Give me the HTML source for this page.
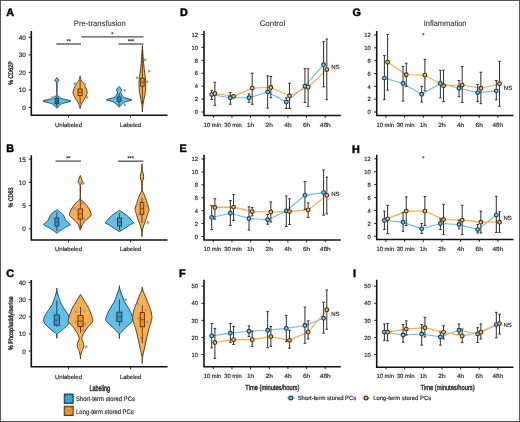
<!DOCTYPE html><html><head><meta charset="utf-8"><style>svg text{font-family:"Liberation Sans",sans-serif;text-rendering:geometricPrecision;stroke:#2a2a2a;stroke-width:0.18px}html,body{margin:0;padding:0;background:#fff;width:520px;height:422px;overflow:hidden;position:relative}</style></head><body><svg width="520" height="422" viewBox="0 0 520 422" style="position:absolute;left:0;top:0;will-change:transform">
<rect x="0" y="0" width="520" height="422" fill="#fff"/>
<text x="6.20" y="15.60" font-size="10.8" text-anchor="start" font-weight="bold" fill="#000" style="stroke:#000;stroke-width:0.45px">A</text>
<text x="6.20" y="152.00" font-size="10.8" text-anchor="start" font-weight="bold" fill="#000" style="stroke:#000;stroke-width:0.45px">B</text>
<text x="6.20" y="276.70" font-size="10.8" text-anchor="start" font-weight="bold" fill="#000" style="stroke:#000;stroke-width:0.45px">C</text>
<text x="179.90" y="16.00" font-size="10.8" text-anchor="start" font-weight="bold" fill="#000" style="stroke:#000;stroke-width:0.45px">D</text>
<text x="179.40" y="152.30" font-size="10.8" text-anchor="start" font-weight="bold" fill="#000" style="stroke:#000;stroke-width:0.45px">E</text>
<text x="179.00" y="276.90" font-size="10.8" text-anchor="start" font-weight="bold" fill="#000" style="stroke:#000;stroke-width:0.45px">F</text>
<text x="352.60" y="15.90" font-size="10.8" text-anchor="start" font-weight="bold" fill="#000" style="stroke:#000;stroke-width:0.45px">G</text>
<text x="352.10" y="152.50" font-size="10.8" text-anchor="start" font-weight="bold" fill="#000" style="stroke:#000;stroke-width:0.45px">H</text>
<text x="352.90" y="277.00" font-size="10.8" text-anchor="start" font-weight="bold" fill="#000" style="stroke:#000;stroke-width:0.45px">I</text>
<path d="M204.00 31.00 V115.50 H340.80" fill="none" stroke="#111" stroke-width="1.6"/>
<line x1="201.40" y1="112.00" x2="204.00" y2="112.00" stroke="#111" stroke-width="0.9"/>
<text x="198.10" y="114.20" font-size="6.0" text-anchor="end" font-weight="normal" fill="#2a2a2a" textLength="3.25" lengthAdjust="spacingAndGlyphs">0</text>
<line x1="201.40" y1="99.08" x2="204.00" y2="99.08" stroke="#111" stroke-width="0.9"/>
<text x="198.10" y="101.28" font-size="6.0" text-anchor="end" font-weight="normal" fill="#2a2a2a" textLength="3.25" lengthAdjust="spacingAndGlyphs">2</text>
<line x1="201.40" y1="86.17" x2="204.00" y2="86.17" stroke="#111" stroke-width="0.9"/>
<text x="198.10" y="88.37" font-size="6.0" text-anchor="end" font-weight="normal" fill="#2a2a2a" textLength="3.25" lengthAdjust="spacingAndGlyphs">4</text>
<line x1="201.40" y1="73.25" x2="204.00" y2="73.25" stroke="#111" stroke-width="0.9"/>
<text x="198.10" y="75.45" font-size="6.0" text-anchor="end" font-weight="normal" fill="#2a2a2a" textLength="3.25" lengthAdjust="spacingAndGlyphs">6</text>
<line x1="201.40" y1="60.33" x2="204.00" y2="60.33" stroke="#111" stroke-width="0.9"/>
<text x="198.10" y="62.53" font-size="6.0" text-anchor="end" font-weight="normal" fill="#2a2a2a" textLength="3.25" lengthAdjust="spacingAndGlyphs">8</text>
<line x1="201.40" y1="47.42" x2="204.00" y2="47.42" stroke="#111" stroke-width="0.9"/>
<text x="198.10" y="49.62" font-size="6.0" text-anchor="end" font-weight="normal" fill="#2a2a2a" textLength="6.50" lengthAdjust="spacingAndGlyphs">10</text>
<line x1="201.40" y1="34.50" x2="204.00" y2="34.50" stroke="#111" stroke-width="0.9"/>
<text x="198.10" y="36.70" font-size="6.0" text-anchor="end" font-weight="normal" fill="#2a2a2a" textLength="6.50" lengthAdjust="spacingAndGlyphs">12</text>
<line x1="213.30" y1="115.50" x2="213.30" y2="117.90" stroke="#111" stroke-width="0.9"/>
<text x="212.50" y="126.70" font-size="6.0" text-anchor="middle" font-weight="normal" fill="#2a2a2a" textLength="17.6" lengthAdjust="spacingAndGlyphs">10 min</text>
<line x1="231.95" y1="115.50" x2="231.95" y2="117.90" stroke="#111" stroke-width="0.9"/>
<text x="232.95" y="126.70" font-size="6.0" text-anchor="middle" font-weight="normal" fill="#2a2a2a" textLength="17.6" lengthAdjust="spacingAndGlyphs">30 min</text>
<line x1="250.60" y1="115.50" x2="250.60" y2="117.90" stroke="#111" stroke-width="0.9"/>
<text x="250.60" y="126.70" font-size="6.0" text-anchor="middle" font-weight="normal" fill="#2a2a2a" textLength="7.3" lengthAdjust="spacingAndGlyphs">1h</text>
<line x1="269.25" y1="115.50" x2="269.25" y2="117.90" stroke="#111" stroke-width="0.9"/>
<text x="269.25" y="126.70" font-size="6.0" text-anchor="middle" font-weight="normal" fill="#2a2a2a" textLength="7.3" lengthAdjust="spacingAndGlyphs">2h</text>
<line x1="287.90" y1="115.50" x2="287.90" y2="117.90" stroke="#111" stroke-width="0.9"/>
<text x="287.90" y="126.70" font-size="6.0" text-anchor="middle" font-weight="normal" fill="#2a2a2a" textLength="7.3" lengthAdjust="spacingAndGlyphs">4h</text>
<line x1="306.55" y1="115.50" x2="306.55" y2="117.90" stroke="#111" stroke-width="0.9"/>
<text x="306.55" y="126.70" font-size="6.0" text-anchor="middle" font-weight="normal" fill="#2a2a2a" textLength="7.3" lengthAdjust="spacingAndGlyphs">6h</text>
<line x1="325.20" y1="115.50" x2="325.20" y2="117.90" stroke="#111" stroke-width="0.9"/>
<text x="325.20" y="126.70" font-size="6.0" text-anchor="middle" font-weight="normal" fill="#2a2a2a" textLength="10.8" lengthAdjust="spacingAndGlyphs">48h</text>
<polyline points="211.70,94.56 230.35,97.79 249.00,97.79 267.65,91.98 286.30,102.12 304.95,86.17 323.60,64.66" fill="none" stroke="#6cc0e4" stroke-width="1.15"/>
<polyline points="214.90,93.46 233.55,96.31 252.20,88.10 270.85,87.46 289.50,95.66 308.15,87.14 326.80,69.57" fill="none" stroke="#f2ad52" stroke-width="1.15"/>
<path d="M211.70 90.30 V99.47 M210.40 90.30 H213.00 M210.40 99.47 H213.00" stroke="#2e2e2e" stroke-width="1.0" fill="none"/>
<path d="M230.35 92.62 V104.25 M229.05 92.62 H231.65 M229.05 104.25 H231.65" stroke="#2e2e2e" stroke-width="1.0" fill="none"/>
<path d="M249.00 93.92 V102.31 M247.70 93.92 H250.30 M247.70 102.31 H250.30" stroke="#2e2e2e" stroke-width="1.0" fill="none"/>
<path d="M267.65 75.83 V108.12 M266.35 75.83 H268.95 M266.35 108.12 H268.95" stroke="#2e2e2e" stroke-width="1.0" fill="none"/>
<path d="M286.30 97.79 V108.45 M285.00 97.79 H287.60 M285.00 108.45 H287.60" stroke="#2e2e2e" stroke-width="1.0" fill="none"/>
<path d="M304.95 68.73 V102.51 M303.65 68.73 H306.25 M303.65 102.51 H306.25" stroke="#2e2e2e" stroke-width="1.0" fill="none"/>
<path d="M323.60 41.60 V86.81 M322.30 41.60 H324.90 M322.30 86.81 H324.90" stroke="#2e2e2e" stroke-width="1.0" fill="none"/>
<path d="M214.90 82.29 V105.28 M213.60 82.29 H216.20 M213.60 105.28 H216.20" stroke="#2e2e2e" stroke-width="1.0" fill="none"/>
<path d="M233.55 95.21 V97.47 M232.25 95.21 H234.85 M232.25 97.47 H234.85" stroke="#2e2e2e" stroke-width="1.0" fill="none"/>
<path d="M252.20 73.25 V104.25 M250.90 73.25 H253.50 M250.90 104.25 H253.50" stroke="#2e2e2e" stroke-width="1.0" fill="none"/>
<path d="M270.85 76.48 V97.79 M269.55 76.48 H272.15 M269.55 97.79 H272.15" stroke="#2e2e2e" stroke-width="1.0" fill="none"/>
<path d="M289.50 83.26 V108.45 M288.20 83.26 H290.80 M288.20 108.45 H290.80" stroke="#2e2e2e" stroke-width="1.0" fill="none"/>
<path d="M308.15 68.73 V106.32 M306.85 68.73 H309.45 M306.85 106.32 H309.45" stroke="#2e2e2e" stroke-width="1.0" fill="none"/>
<path d="M326.80 39.02 V99.73 M325.50 39.02 H328.10 M325.50 99.73 H328.10" stroke="#2e2e2e" stroke-width="1.0" fill="none"/>
<circle cx="211.70" cy="94.56" r="1.85" fill="#7ccdf2" stroke="#173f55" stroke-width="1.15"/>
<circle cx="230.35" cy="97.79" r="1.85" fill="#7ccdf2" stroke="#173f55" stroke-width="1.15"/>
<circle cx="249.00" cy="97.79" r="1.85" fill="#7ccdf2" stroke="#173f55" stroke-width="1.15"/>
<circle cx="267.65" cy="91.98" r="1.85" fill="#7ccdf2" stroke="#173f55" stroke-width="1.15"/>
<circle cx="286.30" cy="102.12" r="1.85" fill="#7ccdf2" stroke="#173f55" stroke-width="1.15"/>
<circle cx="304.95" cy="86.17" r="1.85" fill="#7ccdf2" stroke="#173f55" stroke-width="1.15"/>
<circle cx="323.60" cy="64.66" r="1.85" fill="#7ccdf2" stroke="#173f55" stroke-width="1.15"/>
<circle cx="214.90" cy="93.46" r="1.85" fill="#f9c274" stroke="#4a2d0c" stroke-width="1.15"/>
<circle cx="233.55" cy="96.31" r="1.85" fill="#f9c274" stroke="#4a2d0c" stroke-width="1.15"/>
<circle cx="252.20" cy="88.10" r="1.85" fill="#f9c274" stroke="#4a2d0c" stroke-width="1.15"/>
<circle cx="270.85" cy="87.46" r="1.85" fill="#f9c274" stroke="#4a2d0c" stroke-width="1.15"/>
<circle cx="289.50" cy="95.66" r="1.85" fill="#f9c274" stroke="#4a2d0c" stroke-width="1.15"/>
<circle cx="308.15" cy="87.14" r="1.85" fill="#f9c274" stroke="#4a2d0c" stroke-width="1.15"/>
<circle cx="326.80" cy="69.57" r="1.85" fill="#f9c274" stroke="#4a2d0c" stroke-width="1.15"/>
<text x="272.40" y="25.60" font-size="8.0" text-anchor="middle" font-weight="normal" fill="#2a2a2a" textLength="25.5" lengthAdjust="spacingAndGlyphs" style="stroke-width:0.08px">Control</text>
<text x="331.20" y="69.30" font-size="6.0" text-anchor="start" font-weight="normal" fill="#2a2a2a" >NS</text>
<path d="M204.00 154.70 V240.00 H340.80" fill="none" stroke="#111" stroke-width="1.6"/>
<line x1="201.40" y1="236.50" x2="204.00" y2="236.50" stroke="#111" stroke-width="0.9"/>
<text x="198.10" y="238.70" font-size="6.0" text-anchor="end" font-weight="normal" fill="#2a2a2a" textLength="3.25" lengthAdjust="spacingAndGlyphs">0</text>
<line x1="201.40" y1="223.58" x2="204.00" y2="223.58" stroke="#111" stroke-width="0.9"/>
<text x="198.10" y="225.78" font-size="6.0" text-anchor="end" font-weight="normal" fill="#2a2a2a" textLength="3.25" lengthAdjust="spacingAndGlyphs">2</text>
<line x1="201.40" y1="210.67" x2="204.00" y2="210.67" stroke="#111" stroke-width="0.9"/>
<text x="198.10" y="212.87" font-size="6.0" text-anchor="end" font-weight="normal" fill="#2a2a2a" textLength="3.25" lengthAdjust="spacingAndGlyphs">4</text>
<line x1="201.40" y1="197.75" x2="204.00" y2="197.75" stroke="#111" stroke-width="0.9"/>
<text x="198.10" y="199.95" font-size="6.0" text-anchor="end" font-weight="normal" fill="#2a2a2a" textLength="3.25" lengthAdjust="spacingAndGlyphs">6</text>
<line x1="201.40" y1="184.83" x2="204.00" y2="184.83" stroke="#111" stroke-width="0.9"/>
<text x="198.10" y="187.03" font-size="6.0" text-anchor="end" font-weight="normal" fill="#2a2a2a" textLength="3.25" lengthAdjust="spacingAndGlyphs">8</text>
<line x1="201.40" y1="171.92" x2="204.00" y2="171.92" stroke="#111" stroke-width="0.9"/>
<text x="198.10" y="174.12" font-size="6.0" text-anchor="end" font-weight="normal" fill="#2a2a2a" textLength="6.50" lengthAdjust="spacingAndGlyphs">10</text>
<line x1="201.40" y1="159.00" x2="204.00" y2="159.00" stroke="#111" stroke-width="0.9"/>
<text x="198.10" y="161.20" font-size="6.0" text-anchor="end" font-weight="normal" fill="#2a2a2a" textLength="6.50" lengthAdjust="spacingAndGlyphs">12</text>
<line x1="213.30" y1="240.00" x2="213.30" y2="242.40" stroke="#111" stroke-width="0.9"/>
<text x="212.50" y="251.20" font-size="6.0" text-anchor="middle" font-weight="normal" fill="#2a2a2a" textLength="17.6" lengthAdjust="spacingAndGlyphs">10 min</text>
<line x1="231.95" y1="240.00" x2="231.95" y2="242.40" stroke="#111" stroke-width="0.9"/>
<text x="232.95" y="251.20" font-size="6.0" text-anchor="middle" font-weight="normal" fill="#2a2a2a" textLength="17.6" lengthAdjust="spacingAndGlyphs">30 min</text>
<line x1="250.60" y1="240.00" x2="250.60" y2="242.40" stroke="#111" stroke-width="0.9"/>
<text x="250.60" y="251.20" font-size="6.0" text-anchor="middle" font-weight="normal" fill="#2a2a2a" textLength="7.3" lengthAdjust="spacingAndGlyphs">1h</text>
<line x1="269.25" y1="240.00" x2="269.25" y2="242.40" stroke="#111" stroke-width="0.9"/>
<text x="269.25" y="251.20" font-size="6.0" text-anchor="middle" font-weight="normal" fill="#2a2a2a" textLength="7.3" lengthAdjust="spacingAndGlyphs">2h</text>
<line x1="287.90" y1="240.00" x2="287.90" y2="242.40" stroke="#111" stroke-width="0.9"/>
<text x="287.90" y="251.20" font-size="6.0" text-anchor="middle" font-weight="normal" fill="#2a2a2a" textLength="7.3" lengthAdjust="spacingAndGlyphs">4h</text>
<line x1="306.55" y1="240.00" x2="306.55" y2="242.40" stroke="#111" stroke-width="0.9"/>
<text x="306.55" y="251.20" font-size="6.0" text-anchor="middle" font-weight="normal" fill="#2a2a2a" textLength="7.3" lengthAdjust="spacingAndGlyphs">6h</text>
<line x1="325.20" y1="240.00" x2="325.20" y2="242.40" stroke="#111" stroke-width="0.9"/>
<text x="325.20" y="251.20" font-size="6.0" text-anchor="middle" font-weight="normal" fill="#2a2a2a" textLength="10.8" lengthAdjust="spacingAndGlyphs">48h</text>
<polyline points="211.70,217.45 230.35,213.25 249.00,218.42 267.65,219.71 286.30,210.93 304.95,195.36 323.60,192.58" fill="none" stroke="#6cc0e4" stroke-width="1.15"/>
<polyline points="214.90,207.44 233.55,207.11 252.20,211.57 270.85,211.96 289.50,211.57 308.15,209.89 326.80,195.36" fill="none" stroke="#f2ad52" stroke-width="1.15"/>
<path d="M211.70 205.69 V229.59 M210.40 205.69 H213.00 M210.40 229.59 H213.00" stroke="#2e2e2e" stroke-width="1.0" fill="none"/>
<path d="M230.35 200.53 V225.52 M229.05 200.53 H231.65 M229.05 225.52 H231.65" stroke="#2e2e2e" stroke-width="1.0" fill="none"/>
<path d="M249.00 206.79 V230.04 M247.70 206.79 H250.30 M247.70 230.04 H250.30" stroke="#2e2e2e" stroke-width="1.0" fill="none"/>
<path d="M267.65 214.54 V224.23 M266.35 214.54 H268.95 M266.35 224.23 H268.95" stroke="#2e2e2e" stroke-width="1.0" fill="none"/>
<path d="M286.30 196.01 V226.49 M285.00 196.01 H287.60 M285.00 226.49 H287.60" stroke="#2e2e2e" stroke-width="1.0" fill="none"/>
<path d="M304.95 181.60 V209.38 M303.65 181.60 H306.25 M303.65 209.38 H306.25" stroke="#2e2e2e" stroke-width="1.0" fill="none"/>
<path d="M323.60 169.98 V215.19 M322.30 169.98 H324.90 M322.30 215.19 H324.90" stroke="#2e2e2e" stroke-width="1.0" fill="none"/>
<path d="M214.90 198.78 V219.19 M213.60 198.78 H216.20 M213.60 219.19 H216.20" stroke="#2e2e2e" stroke-width="1.0" fill="none"/>
<path d="M233.55 194.52 V220.35 M232.25 194.52 H234.85 M232.25 220.35 H234.85" stroke="#2e2e2e" stroke-width="1.0" fill="none"/>
<path d="M252.20 207.44 V215.83 M250.90 207.44 H253.50 M250.90 215.83 H253.50" stroke="#2e2e2e" stroke-width="1.0" fill="none"/>
<path d="M270.85 201.88 V221.97 M269.55 201.88 H272.15 M269.55 221.97 H272.15" stroke="#2e2e2e" stroke-width="1.0" fill="none"/>
<path d="M289.50 198.78 V224.42 M288.20 198.78 H290.80 M288.20 224.42 H290.80" stroke="#2e2e2e" stroke-width="1.0" fill="none"/>
<path d="M308.15 202.92 V217.45 M306.85 202.92 H309.45 M306.85 217.45 H309.45" stroke="#2e2e2e" stroke-width="1.0" fill="none"/>
<path d="M326.80 177.08 V213.90 M325.50 177.08 H328.10 M325.50 213.90 H328.10" stroke="#2e2e2e" stroke-width="1.0" fill="none"/>
<circle cx="211.70" cy="217.45" r="1.85" fill="#7ccdf2" stroke="#173f55" stroke-width="1.15"/>
<circle cx="230.35" cy="213.25" r="1.85" fill="#7ccdf2" stroke="#173f55" stroke-width="1.15"/>
<circle cx="249.00" cy="218.42" r="1.85" fill="#7ccdf2" stroke="#173f55" stroke-width="1.15"/>
<circle cx="267.65" cy="219.71" r="1.85" fill="#7ccdf2" stroke="#173f55" stroke-width="1.15"/>
<circle cx="286.30" cy="210.93" r="1.85" fill="#7ccdf2" stroke="#173f55" stroke-width="1.15"/>
<circle cx="304.95" cy="195.36" r="1.85" fill="#7ccdf2" stroke="#173f55" stroke-width="1.15"/>
<circle cx="323.60" cy="192.58" r="1.85" fill="#7ccdf2" stroke="#173f55" stroke-width="1.15"/>
<circle cx="214.90" cy="207.44" r="1.85" fill="#f9c274" stroke="#4a2d0c" stroke-width="1.15"/>
<circle cx="233.55" cy="207.11" r="1.85" fill="#f9c274" stroke="#4a2d0c" stroke-width="1.15"/>
<circle cx="252.20" cy="211.57" r="1.85" fill="#f9c274" stroke="#4a2d0c" stroke-width="1.15"/>
<circle cx="270.85" cy="211.96" r="1.85" fill="#f9c274" stroke="#4a2d0c" stroke-width="1.15"/>
<circle cx="289.50" cy="211.57" r="1.85" fill="#f9c274" stroke="#4a2d0c" stroke-width="1.15"/>
<circle cx="308.15" cy="209.89" r="1.85" fill="#f9c274" stroke="#4a2d0c" stroke-width="1.15"/>
<circle cx="326.80" cy="195.36" r="1.85" fill="#f9c274" stroke="#4a2d0c" stroke-width="1.15"/>
<text x="331.20" y="195.90" font-size="6.0" text-anchor="start" font-weight="normal" fill="#2a2a2a" >NS</text>
<path d="M204.00 279.70 V366.80 H340.80" fill="none" stroke="#111" stroke-width="1.6"/>
<line x1="201.40" y1="354.50" x2="204.00" y2="354.50" stroke="#111" stroke-width="0.9"/>
<text x="198.10" y="356.70" font-size="6.0" text-anchor="end" font-weight="normal" fill="#2a2a2a" textLength="6.50" lengthAdjust="spacingAndGlyphs">10</text>
<line x1="201.40" y1="337.43" x2="204.00" y2="337.43" stroke="#111" stroke-width="0.9"/>
<text x="198.10" y="339.62" font-size="6.0" text-anchor="end" font-weight="normal" fill="#2a2a2a" textLength="6.50" lengthAdjust="spacingAndGlyphs">20</text>
<line x1="201.40" y1="320.35" x2="204.00" y2="320.35" stroke="#111" stroke-width="0.9"/>
<text x="198.10" y="322.55" font-size="6.0" text-anchor="end" font-weight="normal" fill="#2a2a2a" textLength="6.50" lengthAdjust="spacingAndGlyphs">30</text>
<line x1="201.40" y1="303.27" x2="204.00" y2="303.27" stroke="#111" stroke-width="0.9"/>
<text x="198.10" y="305.47" font-size="6.0" text-anchor="end" font-weight="normal" fill="#2a2a2a" textLength="6.50" lengthAdjust="spacingAndGlyphs">40</text>
<line x1="201.40" y1="286.20" x2="204.00" y2="286.20" stroke="#111" stroke-width="0.9"/>
<text x="198.10" y="288.40" font-size="6.0" text-anchor="end" font-weight="normal" fill="#2a2a2a" textLength="6.50" lengthAdjust="spacingAndGlyphs">50</text>
<line x1="213.30" y1="366.80" x2="213.30" y2="369.20" stroke="#111" stroke-width="0.9"/>
<text x="212.50" y="378.00" font-size="6.0" text-anchor="middle" font-weight="normal" fill="#2a2a2a" textLength="17.6" lengthAdjust="spacingAndGlyphs">10 min</text>
<line x1="231.95" y1="366.80" x2="231.95" y2="369.20" stroke="#111" stroke-width="0.9"/>
<text x="232.95" y="378.00" font-size="6.0" text-anchor="middle" font-weight="normal" fill="#2a2a2a" textLength="17.6" lengthAdjust="spacingAndGlyphs">30 min</text>
<line x1="250.60" y1="366.80" x2="250.60" y2="369.20" stroke="#111" stroke-width="0.9"/>
<text x="250.60" y="378.00" font-size="6.0" text-anchor="middle" font-weight="normal" fill="#2a2a2a" textLength="7.3" lengthAdjust="spacingAndGlyphs">1h</text>
<line x1="269.25" y1="366.80" x2="269.25" y2="369.20" stroke="#111" stroke-width="0.9"/>
<text x="269.25" y="378.00" font-size="6.0" text-anchor="middle" font-weight="normal" fill="#2a2a2a" textLength="7.3" lengthAdjust="spacingAndGlyphs">2h</text>
<line x1="287.90" y1="366.80" x2="287.90" y2="369.20" stroke="#111" stroke-width="0.9"/>
<text x="287.90" y="378.00" font-size="6.0" text-anchor="middle" font-weight="normal" fill="#2a2a2a" textLength="7.3" lengthAdjust="spacingAndGlyphs">4h</text>
<line x1="306.55" y1="366.80" x2="306.55" y2="369.20" stroke="#111" stroke-width="0.9"/>
<text x="306.55" y="378.00" font-size="6.0" text-anchor="middle" font-weight="normal" fill="#2a2a2a" textLength="7.3" lengthAdjust="spacingAndGlyphs">6h</text>
<line x1="325.20" y1="366.80" x2="325.20" y2="369.20" stroke="#111" stroke-width="0.9"/>
<text x="325.20" y="378.00" font-size="6.0" text-anchor="middle" font-weight="normal" fill="#2a2a2a" textLength="10.8" lengthAdjust="spacingAndGlyphs">48h</text>
<polyline points="211.70,335.89 230.35,333.16 249.00,331.28 267.65,330.25 286.30,328.38 304.95,325.47 323.60,318.30" fill="none" stroke="#6cc0e4" stroke-width="1.15"/>
<polyline points="214.90,342.55 233.55,339.64 252.20,339.64 270.85,336.57 289.50,340.33 308.15,332.13 326.80,309.76" fill="none" stroke="#f2ad52" stroke-width="1.15"/>
<path d="M211.70 323.59 V347.84 M210.40 323.59 H213.00 M210.40 347.84 H213.00" stroke="#2e2e2e" stroke-width="1.0" fill="none"/>
<path d="M230.35 323.59 V342.55 M229.05 323.59 H231.65 M229.05 342.55 H231.65" stroke="#2e2e2e" stroke-width="1.0" fill="none"/>
<path d="M249.00 325.81 V336.57 M247.70 325.81 H250.30 M247.70 336.57 H250.30" stroke="#2e2e2e" stroke-width="1.0" fill="none"/>
<path d="M267.65 311.64 V347.84 M266.35 311.64 H268.95 M266.35 347.84 H268.95" stroke="#2e2e2e" stroke-width="1.0" fill="none"/>
<path d="M286.30 315.40 V341.52 M285.00 315.40 H287.60 M285.00 341.52 H287.60" stroke="#2e2e2e" stroke-width="1.0" fill="none"/>
<path d="M304.95 307.20 V343.23 M303.65 307.20 H306.25 M303.65 343.23 H306.25" stroke="#2e2e2e" stroke-width="1.0" fill="none"/>
<path d="M323.60 302.25 V333.16 M322.30 302.25 H324.90 M322.30 333.16 H324.90" stroke="#2e2e2e" stroke-width="1.0" fill="none"/>
<path d="M214.90 328.38 V358.26 M213.60 328.38 H216.20 M213.60 358.26 H216.20" stroke="#2e2e2e" stroke-width="1.0" fill="none"/>
<path d="M233.55 326.50 V344.43 M232.25 326.50 H234.85 M232.25 344.43 H234.85" stroke="#2e2e2e" stroke-width="1.0" fill="none"/>
<path d="M252.20 331.28 V346.30 M250.90 331.28 H253.50 M250.90 346.30 H253.50" stroke="#2e2e2e" stroke-width="1.0" fill="none"/>
<path d="M270.85 326.50 V346.30 M269.55 326.50 H272.15 M269.55 346.30 H272.15" stroke="#2e2e2e" stroke-width="1.0" fill="none"/>
<path d="M289.50 330.25 V348.18 M288.20 330.25 H290.80 M288.20 348.18 H290.80" stroke="#2e2e2e" stroke-width="1.0" fill="none"/>
<path d="M308.15 320.86 V338.96 M306.85 320.86 H309.45 M306.85 338.96 H309.45" stroke="#2e2e2e" stroke-width="1.0" fill="none"/>
<path d="M326.80 289.96 V329.23 M325.50 289.96 H328.10 M325.50 329.23 H328.10" stroke="#2e2e2e" stroke-width="1.0" fill="none"/>
<circle cx="211.70" cy="335.89" r="1.85" fill="#7ccdf2" stroke="#173f55" stroke-width="1.15"/>
<circle cx="230.35" cy="333.16" r="1.85" fill="#7ccdf2" stroke="#173f55" stroke-width="1.15"/>
<circle cx="249.00" cy="331.28" r="1.85" fill="#7ccdf2" stroke="#173f55" stroke-width="1.15"/>
<circle cx="267.65" cy="330.25" r="1.85" fill="#7ccdf2" stroke="#173f55" stroke-width="1.15"/>
<circle cx="286.30" cy="328.38" r="1.85" fill="#7ccdf2" stroke="#173f55" stroke-width="1.15"/>
<circle cx="304.95" cy="325.47" r="1.85" fill="#7ccdf2" stroke="#173f55" stroke-width="1.15"/>
<circle cx="323.60" cy="318.30" r="1.85" fill="#7ccdf2" stroke="#173f55" stroke-width="1.15"/>
<circle cx="214.90" cy="342.55" r="1.85" fill="#f9c274" stroke="#4a2d0c" stroke-width="1.15"/>
<circle cx="233.55" cy="339.64" r="1.85" fill="#f9c274" stroke="#4a2d0c" stroke-width="1.15"/>
<circle cx="252.20" cy="339.64" r="1.85" fill="#f9c274" stroke="#4a2d0c" stroke-width="1.15"/>
<circle cx="270.85" cy="336.57" r="1.85" fill="#f9c274" stroke="#4a2d0c" stroke-width="1.15"/>
<circle cx="289.50" cy="340.33" r="1.85" fill="#f9c274" stroke="#4a2d0c" stroke-width="1.15"/>
<circle cx="308.15" cy="332.13" r="1.85" fill="#f9c274" stroke="#4a2d0c" stroke-width="1.15"/>
<circle cx="326.80" cy="309.76" r="1.85" fill="#f9c274" stroke="#4a2d0c" stroke-width="1.15"/>
<text x="331.20" y="316.00" font-size="6.0" text-anchor="start" font-weight="normal" fill="#2a2a2a" >NS</text>
<path d="M376.70 31.00 V115.50 H513.50" fill="none" stroke="#111" stroke-width="1.6"/>
<line x1="374.10" y1="112.00" x2="376.70" y2="112.00" stroke="#111" stroke-width="0.9"/>
<text x="370.80" y="114.20" font-size="6.0" text-anchor="end" font-weight="normal" fill="#2a2a2a" textLength="3.25" lengthAdjust="spacingAndGlyphs">0</text>
<line x1="374.10" y1="99.17" x2="376.70" y2="99.17" stroke="#111" stroke-width="0.9"/>
<text x="370.80" y="101.37" font-size="6.0" text-anchor="end" font-weight="normal" fill="#2a2a2a" textLength="3.25" lengthAdjust="spacingAndGlyphs">2</text>
<line x1="374.10" y1="86.33" x2="376.70" y2="86.33" stroke="#111" stroke-width="0.9"/>
<text x="370.80" y="88.53" font-size="6.0" text-anchor="end" font-weight="normal" fill="#2a2a2a" textLength="3.25" lengthAdjust="spacingAndGlyphs">4</text>
<line x1="374.10" y1="73.50" x2="376.70" y2="73.50" stroke="#111" stroke-width="0.9"/>
<text x="370.80" y="75.70" font-size="6.0" text-anchor="end" font-weight="normal" fill="#2a2a2a" textLength="3.25" lengthAdjust="spacingAndGlyphs">6</text>
<line x1="374.10" y1="60.67" x2="376.70" y2="60.67" stroke="#111" stroke-width="0.9"/>
<text x="370.80" y="62.87" font-size="6.0" text-anchor="end" font-weight="normal" fill="#2a2a2a" textLength="3.25" lengthAdjust="spacingAndGlyphs">8</text>
<line x1="374.10" y1="47.83" x2="376.70" y2="47.83" stroke="#111" stroke-width="0.9"/>
<text x="370.80" y="50.03" font-size="6.0" text-anchor="end" font-weight="normal" fill="#2a2a2a" textLength="6.50" lengthAdjust="spacingAndGlyphs">10</text>
<line x1="374.10" y1="35.00" x2="376.70" y2="35.00" stroke="#111" stroke-width="0.9"/>
<text x="370.80" y="37.20" font-size="6.0" text-anchor="end" font-weight="normal" fill="#2a2a2a" textLength="6.50" lengthAdjust="spacingAndGlyphs">12</text>
<line x1="386.00" y1="115.50" x2="386.00" y2="117.90" stroke="#111" stroke-width="0.9"/>
<text x="385.20" y="126.70" font-size="6.0" text-anchor="middle" font-weight="normal" fill="#2a2a2a" textLength="17.6" lengthAdjust="spacingAndGlyphs">10 min</text>
<line x1="404.65" y1="115.50" x2="404.65" y2="117.90" stroke="#111" stroke-width="0.9"/>
<text x="405.65" y="126.70" font-size="6.0" text-anchor="middle" font-weight="normal" fill="#2a2a2a" textLength="17.6" lengthAdjust="spacingAndGlyphs">30 min</text>
<line x1="423.30" y1="115.50" x2="423.30" y2="117.90" stroke="#111" stroke-width="0.9"/>
<text x="423.30" y="126.70" font-size="6.0" text-anchor="middle" font-weight="normal" fill="#2a2a2a" textLength="7.3" lengthAdjust="spacingAndGlyphs">1h</text>
<line x1="441.95" y1="115.50" x2="441.95" y2="117.90" stroke="#111" stroke-width="0.9"/>
<text x="441.95" y="126.70" font-size="6.0" text-anchor="middle" font-weight="normal" fill="#2a2a2a" textLength="7.3" lengthAdjust="spacingAndGlyphs">2h</text>
<line x1="460.60" y1="115.50" x2="460.60" y2="117.90" stroke="#111" stroke-width="0.9"/>
<text x="460.60" y="126.70" font-size="6.0" text-anchor="middle" font-weight="normal" fill="#2a2a2a" textLength="7.3" lengthAdjust="spacingAndGlyphs">4h</text>
<line x1="479.25" y1="115.50" x2="479.25" y2="117.90" stroke="#111" stroke-width="0.9"/>
<text x="479.25" y="126.70" font-size="6.0" text-anchor="middle" font-weight="normal" fill="#2a2a2a" textLength="7.3" lengthAdjust="spacingAndGlyphs">6h</text>
<line x1="497.90" y1="115.50" x2="497.90" y2="117.90" stroke="#111" stroke-width="0.9"/>
<text x="497.90" y="126.70" font-size="6.0" text-anchor="middle" font-weight="normal" fill="#2a2a2a" textLength="10.8" lengthAdjust="spacingAndGlyphs">48h</text>
<polyline points="384.40,78.06 403.05,83.45 421.70,94.23 440.35,83.45 459.00,88.26 477.65,92.56 496.30,90.83" fill="none" stroke="#6cc0e4" stroke-width="1.15"/>
<polyline points="387.60,62.27 406.25,74.78 424.90,75.10 443.55,85.69 462.20,85.05 480.85,88.26 499.50,83.77" fill="none" stroke="#f2ad52" stroke-width="1.15"/>
<path d="M384.40 55.53 V99.62 M383.10 55.53 H385.70 M383.10 99.62 H385.70" stroke="#2e2e2e" stroke-width="1.0" fill="none"/>
<path d="M403.05 66.44 V101.09 M401.75 66.44 H404.35 M401.75 101.09 H404.35" stroke="#2e2e2e" stroke-width="1.0" fill="none"/>
<path d="M421.70 86.33 V101.99 M420.40 86.33 H423.00 M420.40 101.99 H423.00" stroke="#2e2e2e" stroke-width="1.0" fill="none"/>
<path d="M440.35 70.29 V97.88 M439.05 70.29 H441.65 M439.05 97.88 H441.65" stroke="#2e2e2e" stroke-width="1.0" fill="none"/>
<path d="M459.00 80.56 V96.60 M457.70 80.56 H460.30 M457.70 96.60 H460.30" stroke="#2e2e2e" stroke-width="1.0" fill="none"/>
<path d="M477.65 84.41 V101.73 M476.35 84.41 H478.95 M476.35 101.73 H478.95" stroke="#2e2e2e" stroke-width="1.0" fill="none"/>
<path d="M496.30 80.56 V99.81 M495.00 80.56 H497.60 M495.00 99.81 H497.60" stroke="#2e2e2e" stroke-width="1.0" fill="none"/>
<path d="M387.60 34.36 V90.18 M386.30 34.36 H388.90 M386.30 90.18 H388.90" stroke="#2e2e2e" stroke-width="1.0" fill="none"/>
<path d="M406.25 63.23 V86.33 M404.95 63.23 H407.55 M404.95 86.33 H407.55" stroke="#2e2e2e" stroke-width="1.0" fill="none"/>
<path d="M424.90 59.38 V90.83 M423.60 59.38 H426.20 M423.60 90.83 H426.20" stroke="#2e2e2e" stroke-width="1.0" fill="none"/>
<path d="M443.55 70.29 V101.73 M442.25 70.29 H444.85 M442.25 101.73 H444.85" stroke="#2e2e2e" stroke-width="1.0" fill="none"/>
<path d="M462.20 66.44 V102.38 M460.90 66.44 H463.50 M460.90 102.38 H463.50" stroke="#2e2e2e" stroke-width="1.0" fill="none"/>
<path d="M480.85 72.22 V103.66 M479.55 72.22 H482.15 M479.55 103.66 H482.15" stroke="#2e2e2e" stroke-width="1.0" fill="none"/>
<path d="M499.50 61.31 V106.22 M498.20 61.31 H500.80 M498.20 106.22 H500.80" stroke="#2e2e2e" stroke-width="1.0" fill="none"/>
<circle cx="384.40" cy="78.06" r="1.85" fill="#7ccdf2" stroke="#173f55" stroke-width="1.15"/>
<circle cx="403.05" cy="83.45" r="1.85" fill="#7ccdf2" stroke="#173f55" stroke-width="1.15"/>
<circle cx="421.70" cy="94.23" r="1.85" fill="#7ccdf2" stroke="#173f55" stroke-width="1.15"/>
<circle cx="440.35" cy="83.45" r="1.85" fill="#7ccdf2" stroke="#173f55" stroke-width="1.15"/>
<circle cx="459.00" cy="88.26" r="1.85" fill="#7ccdf2" stroke="#173f55" stroke-width="1.15"/>
<circle cx="477.65" cy="92.56" r="1.85" fill="#7ccdf2" stroke="#173f55" stroke-width="1.15"/>
<circle cx="496.30" cy="90.83" r="1.85" fill="#7ccdf2" stroke="#173f55" stroke-width="1.15"/>
<circle cx="387.60" cy="62.27" r="1.85" fill="#f9c274" stroke="#4a2d0c" stroke-width="1.15"/>
<circle cx="406.25" cy="74.78" r="1.85" fill="#f9c274" stroke="#4a2d0c" stroke-width="1.15"/>
<circle cx="424.90" cy="75.10" r="1.85" fill="#f9c274" stroke="#4a2d0c" stroke-width="1.15"/>
<circle cx="443.55" cy="85.69" r="1.85" fill="#f9c274" stroke="#4a2d0c" stroke-width="1.15"/>
<circle cx="462.20" cy="85.05" r="1.85" fill="#f9c274" stroke="#4a2d0c" stroke-width="1.15"/>
<circle cx="480.85" cy="88.26" r="1.85" fill="#f9c274" stroke="#4a2d0c" stroke-width="1.15"/>
<circle cx="499.50" cy="83.77" r="1.85" fill="#f9c274" stroke="#4a2d0c" stroke-width="1.15"/>
<text x="445.10" y="25.60" font-size="8.0" text-anchor="middle" font-weight="normal" fill="#2a2a2a" textLength="42.7" lengthAdjust="spacingAndGlyphs" style="stroke-width:0.08px">Inflammation</text>
<text x="503.80" y="89.80" font-size="6.0" text-anchor="start" font-weight="normal" fill="#2a2a2a" >NS</text>
<text x="423.40" y="37.00" font-size="5.5" text-anchor="middle" font-weight="normal" fill="#2a2a2a" >*</text>
<path d="M376.70 154.70 V239.50 H513.50" fill="none" stroke="#111" stroke-width="1.6"/>
<line x1="374.10" y1="236.30" x2="376.70" y2="236.30" stroke="#111" stroke-width="0.9"/>
<text x="370.80" y="238.50" font-size="6.0" text-anchor="end" font-weight="normal" fill="#2a2a2a" textLength="3.25" lengthAdjust="spacingAndGlyphs">0</text>
<line x1="374.10" y1="223.38" x2="376.70" y2="223.38" stroke="#111" stroke-width="0.9"/>
<text x="370.80" y="225.58" font-size="6.0" text-anchor="end" font-weight="normal" fill="#2a2a2a" textLength="3.25" lengthAdjust="spacingAndGlyphs">2</text>
<line x1="374.10" y1="210.47" x2="376.70" y2="210.47" stroke="#111" stroke-width="0.9"/>
<text x="370.80" y="212.67" font-size="6.0" text-anchor="end" font-weight="normal" fill="#2a2a2a" textLength="3.25" lengthAdjust="spacingAndGlyphs">4</text>
<line x1="374.10" y1="197.55" x2="376.70" y2="197.55" stroke="#111" stroke-width="0.9"/>
<text x="370.80" y="199.75" font-size="6.0" text-anchor="end" font-weight="normal" fill="#2a2a2a" textLength="3.25" lengthAdjust="spacingAndGlyphs">6</text>
<line x1="374.10" y1="184.63" x2="376.70" y2="184.63" stroke="#111" stroke-width="0.9"/>
<text x="370.80" y="186.83" font-size="6.0" text-anchor="end" font-weight="normal" fill="#2a2a2a" textLength="3.25" lengthAdjust="spacingAndGlyphs">8</text>
<line x1="374.10" y1="171.72" x2="376.70" y2="171.72" stroke="#111" stroke-width="0.9"/>
<text x="370.80" y="173.92" font-size="6.0" text-anchor="end" font-weight="normal" fill="#2a2a2a" textLength="6.50" lengthAdjust="spacingAndGlyphs">10</text>
<line x1="374.10" y1="158.80" x2="376.70" y2="158.80" stroke="#111" stroke-width="0.9"/>
<text x="370.80" y="161.00" font-size="6.0" text-anchor="end" font-weight="normal" fill="#2a2a2a" textLength="6.50" lengthAdjust="spacingAndGlyphs">12</text>
<line x1="386.00" y1="239.50" x2="386.00" y2="241.90" stroke="#111" stroke-width="0.9"/>
<text x="385.20" y="250.70" font-size="6.0" text-anchor="middle" font-weight="normal" fill="#2a2a2a" textLength="17.6" lengthAdjust="spacingAndGlyphs">10 min</text>
<line x1="404.65" y1="239.50" x2="404.65" y2="241.90" stroke="#111" stroke-width="0.9"/>
<text x="405.65" y="250.70" font-size="6.0" text-anchor="middle" font-weight="normal" fill="#2a2a2a" textLength="17.6" lengthAdjust="spacingAndGlyphs">30 min</text>
<line x1="423.30" y1="239.50" x2="423.30" y2="241.90" stroke="#111" stroke-width="0.9"/>
<text x="423.30" y="250.70" font-size="6.0" text-anchor="middle" font-weight="normal" fill="#2a2a2a" textLength="7.3" lengthAdjust="spacingAndGlyphs">1h</text>
<line x1="441.95" y1="239.50" x2="441.95" y2="241.90" stroke="#111" stroke-width="0.9"/>
<text x="441.95" y="250.70" font-size="6.0" text-anchor="middle" font-weight="normal" fill="#2a2a2a" textLength="7.3" lengthAdjust="spacingAndGlyphs">2h</text>
<line x1="460.60" y1="239.50" x2="460.60" y2="241.90" stroke="#111" stroke-width="0.9"/>
<text x="460.60" y="250.70" font-size="6.0" text-anchor="middle" font-weight="normal" fill="#2a2a2a" textLength="7.3" lengthAdjust="spacingAndGlyphs">4h</text>
<line x1="479.25" y1="239.50" x2="479.25" y2="241.90" stroke="#111" stroke-width="0.9"/>
<text x="479.25" y="250.70" font-size="6.0" text-anchor="middle" font-weight="normal" fill="#2a2a2a" textLength="7.3" lengthAdjust="spacingAndGlyphs">6h</text>
<line x1="497.90" y1="239.50" x2="497.90" y2="241.90" stroke="#111" stroke-width="0.9"/>
<text x="497.90" y="250.70" font-size="6.0" text-anchor="middle" font-weight="normal" fill="#2a2a2a" textLength="10.8" lengthAdjust="spacingAndGlyphs">48h</text>
<polyline points="384.40,220.48 403.05,222.16 421.70,228.87 440.35,223.51 459.00,224.48 477.65,229.58 496.30,215.05" fill="none" stroke="#6cc0e4" stroke-width="1.15"/>
<polyline points="387.60,218.86 406.25,211.11 424.90,211.11 443.55,219.51 462.20,220.15 480.85,222.16 499.50,222.16" fill="none" stroke="#f2ad52" stroke-width="1.15"/>
<path d="M384.40 211.11 V229.58 M383.10 211.11 H385.70 M383.10 229.58 H385.70" stroke="#2e2e2e" stroke-width="1.0" fill="none"/>
<path d="M403.05 212.73 V231.26 M401.75 212.73 H404.35 M401.75 231.26 H404.35" stroke="#2e2e2e" stroke-width="1.0" fill="none"/>
<path d="M421.70 223.51 V233.59 M420.40 223.51 H423.00 M420.40 233.59 H423.00" stroke="#2e2e2e" stroke-width="1.0" fill="none"/>
<path d="M440.35 218.86 V229.58 M439.05 218.86 H441.65 M439.05 229.58 H441.65" stroke="#2e2e2e" stroke-width="1.0" fill="none"/>
<path d="M459.00 220.15 V228.87 M457.70 220.15 H460.30 M457.70 228.87 H460.30" stroke="#2e2e2e" stroke-width="1.0" fill="none"/>
<path d="M477.65 224.48 V232.94 M476.35 224.48 H478.95 M476.35 232.94 H478.95" stroke="#2e2e2e" stroke-width="1.0" fill="none"/>
<path d="M496.30 196.26 V232.43 M495.00 196.26 H497.60 M495.00 232.43 H497.60" stroke="#2e2e2e" stroke-width="1.0" fill="none"/>
<path d="M387.60 205.30 V233.59 M386.30 205.30 H388.90 M386.30 233.59 H388.90" stroke="#2e2e2e" stroke-width="1.0" fill="none"/>
<path d="M406.25 196.90 V225.51 M404.95 196.90 H407.55 M404.95 225.51 H407.55" stroke="#2e2e2e" stroke-width="1.0" fill="none"/>
<path d="M424.90 196.52 V225.51 M423.60 196.52 H426.20 M423.60 225.51 H426.20" stroke="#2e2e2e" stroke-width="1.0" fill="none"/>
<path d="M443.55 204.27 V234.62 M442.25 204.27 H444.85 M442.25 234.62 H444.85" stroke="#2e2e2e" stroke-width="1.0" fill="none"/>
<path d="M462.20 205.30 V234.62 M460.90 205.30 H463.50 M460.90 234.62 H463.50" stroke="#2e2e2e" stroke-width="1.0" fill="none"/>
<path d="M480.85 211.11 V232.94 M479.55 211.11 H482.15 M479.55 232.94 H482.15" stroke="#2e2e2e" stroke-width="1.0" fill="none"/>
<path d="M499.50 211.76 V232.43 M498.20 211.76 H500.80 M498.20 232.43 H500.80" stroke="#2e2e2e" stroke-width="1.0" fill="none"/>
<circle cx="384.40" cy="220.48" r="1.85" fill="#7ccdf2" stroke="#173f55" stroke-width="1.15"/>
<circle cx="403.05" cy="222.16" r="1.85" fill="#7ccdf2" stroke="#173f55" stroke-width="1.15"/>
<circle cx="421.70" cy="228.87" r="1.85" fill="#7ccdf2" stroke="#173f55" stroke-width="1.15"/>
<circle cx="440.35" cy="223.51" r="1.85" fill="#7ccdf2" stroke="#173f55" stroke-width="1.15"/>
<circle cx="459.00" cy="224.48" r="1.85" fill="#7ccdf2" stroke="#173f55" stroke-width="1.15"/>
<circle cx="477.65" cy="229.58" r="1.85" fill="#7ccdf2" stroke="#173f55" stroke-width="1.15"/>
<circle cx="496.30" cy="215.05" r="1.85" fill="#7ccdf2" stroke="#173f55" stroke-width="1.15"/>
<circle cx="387.60" cy="218.86" r="1.85" fill="#f9c274" stroke="#4a2d0c" stroke-width="1.15"/>
<circle cx="406.25" cy="211.11" r="1.85" fill="#f9c274" stroke="#4a2d0c" stroke-width="1.15"/>
<circle cx="424.90" cy="211.11" r="1.85" fill="#f9c274" stroke="#4a2d0c" stroke-width="1.15"/>
<circle cx="443.55" cy="219.51" r="1.85" fill="#f9c274" stroke="#4a2d0c" stroke-width="1.15"/>
<circle cx="462.20" cy="220.15" r="1.85" fill="#f9c274" stroke="#4a2d0c" stroke-width="1.15"/>
<circle cx="480.85" cy="222.16" r="1.85" fill="#f9c274" stroke="#4a2d0c" stroke-width="1.15"/>
<circle cx="499.50" cy="222.16" r="1.85" fill="#f9c274" stroke="#4a2d0c" stroke-width="1.15"/>
<text x="503.50" y="220.20" font-size="6.0" text-anchor="start" font-weight="normal" fill="#2a2a2a" >NS</text>
<text x="423.40" y="160.00" font-size="5.5" text-anchor="middle" font-weight="normal" fill="#2a2a2a" >*</text>
<path d="M376.70 279.70 V367.20 H513.50" fill="none" stroke="#111" stroke-width="1.6"/>
<line x1="374.10" y1="354.50" x2="376.70" y2="354.50" stroke="#111" stroke-width="0.9"/>
<text x="370.80" y="356.70" font-size="6.0" text-anchor="end" font-weight="normal" fill="#2a2a2a" textLength="6.50" lengthAdjust="spacingAndGlyphs">10</text>
<line x1="374.10" y1="337.43" x2="376.70" y2="337.43" stroke="#111" stroke-width="0.9"/>
<text x="370.80" y="339.62" font-size="6.0" text-anchor="end" font-weight="normal" fill="#2a2a2a" textLength="6.50" lengthAdjust="spacingAndGlyphs">20</text>
<line x1="374.10" y1="320.35" x2="376.70" y2="320.35" stroke="#111" stroke-width="0.9"/>
<text x="370.80" y="322.55" font-size="6.0" text-anchor="end" font-weight="normal" fill="#2a2a2a" textLength="6.50" lengthAdjust="spacingAndGlyphs">30</text>
<line x1="374.10" y1="303.27" x2="376.70" y2="303.27" stroke="#111" stroke-width="0.9"/>
<text x="370.80" y="305.47" font-size="6.0" text-anchor="end" font-weight="normal" fill="#2a2a2a" textLength="6.50" lengthAdjust="spacingAndGlyphs">40</text>
<line x1="374.10" y1="286.20" x2="376.70" y2="286.20" stroke="#111" stroke-width="0.9"/>
<text x="370.80" y="288.40" font-size="6.0" text-anchor="end" font-weight="normal" fill="#2a2a2a" textLength="6.50" lengthAdjust="spacingAndGlyphs">50</text>
<line x1="386.00" y1="367.20" x2="386.00" y2="369.60" stroke="#111" stroke-width="0.9"/>
<text x="385.20" y="378.40" font-size="6.0" text-anchor="middle" font-weight="normal" fill="#2a2a2a" textLength="17.6" lengthAdjust="spacingAndGlyphs">10 min</text>
<line x1="404.65" y1="367.20" x2="404.65" y2="369.60" stroke="#111" stroke-width="0.9"/>
<text x="405.65" y="378.40" font-size="6.0" text-anchor="middle" font-weight="normal" fill="#2a2a2a" textLength="17.6" lengthAdjust="spacingAndGlyphs">30 min</text>
<line x1="423.30" y1="367.20" x2="423.30" y2="369.60" stroke="#111" stroke-width="0.9"/>
<text x="423.30" y="378.40" font-size="6.0" text-anchor="middle" font-weight="normal" fill="#2a2a2a" textLength="7.3" lengthAdjust="spacingAndGlyphs">1h</text>
<line x1="441.95" y1="367.20" x2="441.95" y2="369.60" stroke="#111" stroke-width="0.9"/>
<text x="441.95" y="378.40" font-size="6.0" text-anchor="middle" font-weight="normal" fill="#2a2a2a" textLength="7.3" lengthAdjust="spacingAndGlyphs">2h</text>
<line x1="460.60" y1="367.20" x2="460.60" y2="369.60" stroke="#111" stroke-width="0.9"/>
<text x="460.60" y="378.40" font-size="6.0" text-anchor="middle" font-weight="normal" fill="#2a2a2a" textLength="7.3" lengthAdjust="spacingAndGlyphs">4h</text>
<line x1="479.25" y1="367.20" x2="479.25" y2="369.60" stroke="#111" stroke-width="0.9"/>
<text x="479.25" y="378.40" font-size="6.0" text-anchor="middle" font-weight="normal" fill="#2a2a2a" textLength="7.3" lengthAdjust="spacingAndGlyphs">6h</text>
<line x1="497.90" y1="367.20" x2="497.90" y2="369.60" stroke="#111" stroke-width="0.9"/>
<text x="497.90" y="378.40" font-size="6.0" text-anchor="middle" font-weight="normal" fill="#2a2a2a" textLength="10.8" lengthAdjust="spacingAndGlyphs">48h</text>
<polyline points="384.40,332.13 403.05,335.03 421.70,334.01 440.35,336.91 459.00,330.25 477.65,334.01 496.30,324.62" fill="none" stroke="#6cc0e4" stroke-width="1.15"/>
<polyline points="387.60,332.13 406.25,329.06 424.90,327.69 443.55,332.13 462.20,335.89 480.85,332.13 499.50,323.59" fill="none" stroke="#f2ad52" stroke-width="1.15"/>
<path d="M384.40 323.94 V340.33 M383.10 323.94 H385.70 M383.10 340.33 H385.70" stroke="#2e2e2e" stroke-width="1.0" fill="none"/>
<path d="M403.05 324.62 V342.21 M401.75 324.62 H404.35 M401.75 342.21 H404.35" stroke="#2e2e2e" stroke-width="1.0" fill="none"/>
<path d="M421.70 324.62 V345.11 M420.40 324.62 H423.00 M420.40 345.11 H423.00" stroke="#2e2e2e" stroke-width="1.0" fill="none"/>
<path d="M440.35 332.13 V345.11 M439.05 332.13 H441.65 M439.05 345.11 H441.65" stroke="#2e2e2e" stroke-width="1.0" fill="none"/>
<path d="M459.00 323.94 V334.01 M457.70 323.94 H460.30 M457.70 334.01 H460.30" stroke="#2e2e2e" stroke-width="1.0" fill="none"/>
<path d="M477.65 327.69 V342.55 M476.35 327.69 H478.95 M476.35 342.55 H478.95" stroke="#2e2e2e" stroke-width="1.0" fill="none"/>
<path d="M496.30 312.32 V337.77 M495.00 312.32 H497.60 M495.00 337.77 H497.60" stroke="#2e2e2e" stroke-width="1.0" fill="none"/>
<path d="M387.60 323.59 V340.84 M386.30 323.59 H388.90 M386.30 340.84 H388.90" stroke="#2e2e2e" stroke-width="1.0" fill="none"/>
<path d="M406.25 320.86 V335.03 M404.95 320.86 H407.55 M404.95 335.03 H407.55" stroke="#2e2e2e" stroke-width="1.0" fill="none"/>
<path d="M424.90 317.28 V336.91 M423.60 317.28 H426.20 M423.60 336.91 H426.20" stroke="#2e2e2e" stroke-width="1.0" fill="none"/>
<path d="M443.55 325.81 V338.96 M442.25 325.81 H444.85 M442.25 338.96 H444.85" stroke="#2e2e2e" stroke-width="1.0" fill="none"/>
<path d="M462.20 329.06 V342.55 M460.90 329.06 H463.50 M460.90 342.55 H463.50" stroke="#2e2e2e" stroke-width="1.0" fill="none"/>
<path d="M480.85 323.94 V338.96 M479.55 323.94 H482.15 M479.55 338.96 H482.15" stroke="#2e2e2e" stroke-width="1.0" fill="none"/>
<path d="M499.50 314.20 V334.01 M498.20 314.20 H500.80 M498.20 334.01 H500.80" stroke="#2e2e2e" stroke-width="1.0" fill="none"/>
<circle cx="384.40" cy="332.13" r="1.85" fill="#7ccdf2" stroke="#173f55" stroke-width="1.15"/>
<circle cx="403.05" cy="335.03" r="1.85" fill="#7ccdf2" stroke="#173f55" stroke-width="1.15"/>
<circle cx="421.70" cy="334.01" r="1.85" fill="#7ccdf2" stroke="#173f55" stroke-width="1.15"/>
<circle cx="440.35" cy="336.91" r="1.85" fill="#7ccdf2" stroke="#173f55" stroke-width="1.15"/>
<circle cx="459.00" cy="330.25" r="1.85" fill="#7ccdf2" stroke="#173f55" stroke-width="1.15"/>
<circle cx="477.65" cy="334.01" r="1.85" fill="#7ccdf2" stroke="#173f55" stroke-width="1.15"/>
<circle cx="496.30" cy="324.62" r="1.85" fill="#7ccdf2" stroke="#173f55" stroke-width="1.15"/>
<circle cx="387.60" cy="332.13" r="1.85" fill="#f9c274" stroke="#4a2d0c" stroke-width="1.15"/>
<circle cx="406.25" cy="329.06" r="1.85" fill="#f9c274" stroke="#4a2d0c" stroke-width="1.15"/>
<circle cx="424.90" cy="327.69" r="1.85" fill="#f9c274" stroke="#4a2d0c" stroke-width="1.15"/>
<circle cx="443.55" cy="332.13" r="1.85" fill="#f9c274" stroke="#4a2d0c" stroke-width="1.15"/>
<circle cx="462.20" cy="335.89" r="1.85" fill="#f9c274" stroke="#4a2d0c" stroke-width="1.15"/>
<circle cx="480.85" cy="332.13" r="1.85" fill="#f9c274" stroke="#4a2d0c" stroke-width="1.15"/>
<circle cx="499.50" cy="323.59" r="1.85" fill="#f9c274" stroke="#4a2d0c" stroke-width="1.15"/>
<text x="503.50" y="326.60" font-size="6.0" text-anchor="start" font-weight="normal" fill="#2a2a2a" >NS</text>
<path d="M31.30 31.00 V115.20 H167.5" fill="none" stroke="#111" stroke-width="1.6"/>
<line x1="28.70" y1="107.40" x2="31.30" y2="107.40" stroke="#111" stroke-width="0.9"/>
<text x="25.90" y="109.90" font-size="6.4" text-anchor="end" font-weight="normal" fill="#2a2a2a" >0</text>
<line x1="28.70" y1="89.90" x2="31.30" y2="89.90" stroke="#111" stroke-width="0.9"/>
<text x="25.90" y="92.40" font-size="6.4" text-anchor="end" font-weight="normal" fill="#2a2a2a" >10</text>
<line x1="28.70" y1="72.40" x2="31.30" y2="72.40" stroke="#111" stroke-width="0.9"/>
<text x="25.90" y="74.90" font-size="6.4" text-anchor="end" font-weight="normal" fill="#2a2a2a" >20</text>
<line x1="28.70" y1="54.90" x2="31.30" y2="54.90" stroke="#111" stroke-width="0.9"/>
<text x="25.90" y="57.40" font-size="6.4" text-anchor="end" font-weight="normal" fill="#2a2a2a" >30</text>
<line x1="28.70" y1="37.40" x2="31.30" y2="37.40" stroke="#111" stroke-width="0.9"/>
<text x="25.90" y="39.90" font-size="6.4" text-anchor="end" font-weight="normal" fill="#2a2a2a" >40</text>
<line x1="68.50" y1="115.20" x2="68.50" y2="117.60" stroke="#111" stroke-width="0.9"/>
<text x="68.50" y="126.70" font-size="6.0" text-anchor="middle" font-weight="normal" fill="#2a2a2a" >Unlabeled</text>
<line x1="130.50" y1="115.20" x2="130.50" y2="117.60" stroke="#111" stroke-width="0.9"/>
<text x="130.50" y="126.70" font-size="6.0" text-anchor="middle" font-weight="normal" fill="#2a2a2a" >Labeled</text>
<text transform="translate(12.7 73.00) rotate(-90)" x="0" y="0" font-size="6.6" text-anchor="middle" fill="#1e1e1e" style="stroke-width:0.38px" textLength="23.7" lengthAdjust="spacingAndGlyphs">% CD62P</text>
<path d="M56.90 77.60 C57.01 77.74 57.80 78.71 58.00 79.00 C58.20 79.29 58.94 80.20 58.90 80.50 C58.86 80.80 57.80 81.73 57.60 82.00 C57.41 82.27 57.01 81.95 56.95 83.20 C56.88 84.45 56.80 93.22 56.95 94.50 C57.09 95.78 57.95 95.60 58.40 96.00 C58.84 96.40 60.14 98.00 61.40 98.50 C62.66 99.00 70.90 100.50 71.00 101.00 C71.10 101.50 63.59 103.00 62.40 103.50 C61.21 104.00 59.65 105.53 59.10 106.00 C58.55 106.47 57.12 107.98 56.90 108.20 C56.68 107.98 55.25 106.47 54.70 106.00 C54.15 105.53 52.59 104.00 51.40 103.50 C50.21 103.00 42.70 101.50 42.80 101.00 C42.90 100.50 51.14 99.00 52.40 98.50 C53.66 98.00 54.95 96.40 55.40 96.00 C55.84 95.60 56.70 95.78 56.85 94.50 C57.00 93.22 56.91 84.45 56.85 83.20 C56.79 81.95 56.39 82.27 56.20 82.00 C56.00 81.73 54.94 80.80 54.90 80.50 C54.86 80.20 55.60 79.29 55.80 79.00 C56.00 78.71 56.79 77.74 56.90 77.60 Z" fill="#62c0ec" stroke="#0f3a4c" stroke-width="0.9" stroke-linejoin="round"/>
<circle cx="52.50" cy="97.50" r="1.2" fill="#a3a3a3" stroke="#8a8a8a" stroke-width="0.3"/>
<circle cx="60.50" cy="103.00" r="1.2" fill="#a3a3a3" stroke="#8a8a8a" stroke-width="0.3"/>
<circle cx="56.00" cy="105.00" r="1.2" fill="#a3a3a3" stroke="#8a8a8a" stroke-width="0.3"/>
<line x1="56.90" y1="96.00" x2="56.90" y2="107.00" stroke="#0f3a4c" stroke-width="0.85"/>
<rect x="55.10" y="98.50" width="3.60" height="5.30" fill="#2a78a8" stroke="#0f3a4c" stroke-width="0.85"/>
<line x1="55.10" y1="101.15" x2="58.70" y2="101.15" stroke="#0f3a4c" stroke-width="0.6"/>
<path d="M80.10 75.80 C80.18 76.18 80.55 78.84 80.90 79.60 C81.25 80.36 83.11 82.60 83.60 83.40 C84.09 84.20 85.44 86.70 85.80 87.60 C86.16 88.50 87.17 91.56 87.20 92.40 C87.23 93.24 86.41 95.29 86.10 96.00 C85.79 96.71 84.60 98.63 84.10 99.50 C83.60 100.37 81.50 103.80 81.10 104.70 C80.70 105.60 80.20 108.12 80.10 108.50 C80.00 108.12 79.50 105.60 79.10 104.70 C78.70 103.80 76.60 100.37 76.10 99.50 C75.60 98.63 74.41 96.71 74.10 96.00 C73.79 95.29 72.97 93.24 73.00 92.40 C73.03 91.56 74.04 88.50 74.40 87.60 C74.76 86.70 76.11 84.20 76.60 83.40 C77.09 82.60 78.95 80.36 79.30 79.60 C79.65 78.84 80.02 76.18 80.10 75.80 Z" fill="#f7ae55" stroke="#4a2c08" stroke-width="0.9" stroke-linejoin="round"/>
<circle cx="74.80" cy="83.80" r="1.2" fill="#a3a3a3" stroke="#8a8a8a" stroke-width="0.3"/>
<circle cx="84.60" cy="84.30" r="1.2" fill="#a3a3a3" stroke="#8a8a8a" stroke-width="0.3"/>
<circle cx="87.00" cy="97.40" r="1.2" fill="#a3a3a3" stroke="#8a8a8a" stroke-width="0.3"/>
<line x1="80.10" y1="80.00" x2="80.10" y2="104.00" stroke="#4a2c08" stroke-width="0.85"/>
<rect x="78.00" y="89.00" width="4.20" height="6.70" fill="#ee9420" stroke="#4a2c08" stroke-width="0.85"/>
<line x1="78.00" y1="92.35" x2="82.20" y2="92.35" stroke="#4a2c08" stroke-width="0.6"/>
<path d="M119.10 86.60 C119.28 86.77 120.63 87.98 120.90 88.30 C121.17 88.62 121.78 89.50 121.80 89.80 C121.82 90.10 121.21 91.03 121.10 91.30 C120.99 91.57 120.64 92.13 120.70 92.50 C120.76 92.87 121.36 94.50 121.70 95.00 C122.04 95.50 123.08 97.02 124.10 97.50 C125.12 97.98 131.80 99.37 131.90 99.80 C132.00 100.23 126.08 101.38 125.10 101.80 C124.12 102.22 122.70 103.46 122.10 104.00 C121.50 104.54 119.40 106.88 119.10 107.20 C118.80 106.88 116.70 104.54 116.10 104.00 C115.50 103.46 114.08 102.22 113.10 101.80 C112.12 101.38 106.20 100.23 106.30 99.80 C106.40 99.37 113.08 97.98 114.10 97.50 C115.12 97.02 116.16 95.50 116.50 95.00 C116.84 94.50 117.44 92.87 117.50 92.50 C117.56 92.13 117.21 91.57 117.10 91.30 C116.99 91.03 116.38 90.10 116.40 89.80 C116.42 89.50 117.03 88.62 117.30 88.30 C117.57 87.98 118.92 86.77 119.10 86.60 Z" fill="#62c0ec" stroke="#0f3a4c" stroke-width="0.9" stroke-linejoin="round"/>
<circle cx="124.60" cy="90.40" r="1.2" fill="#a3a3a3" stroke="#8a8a8a" stroke-width="0.3"/>
<circle cx="124.80" cy="104.80" r="1.2" fill="#a3a3a3" stroke="#8a8a8a" stroke-width="0.3"/>
<line x1="119.10" y1="93.00" x2="119.10" y2="106.00" stroke="#0f3a4c" stroke-width="0.85"/>
<rect x="117.10" y="97.00" width="4.00" height="4.50" fill="#3f95c8" stroke="#0f3a4c" stroke-width="0.85"/>
<line x1="117.10" y1="99.25" x2="121.10" y2="99.25" stroke="#0f3a4c" stroke-width="0.6"/>
<path d="M142.40 45.30 C142.44 45.97 142.72 50.73 142.80 52.00 C142.88 53.27 143.10 56.70 143.20 58.00 C143.30 59.30 143.66 63.60 143.80 65.00 C143.94 66.40 144.44 70.70 144.60 72.00 C144.76 73.30 145.28 76.80 145.40 78.00 C145.52 79.20 145.80 82.65 145.80 84.00 C145.80 85.35 145.54 90.20 145.40 91.50 C145.26 92.80 144.60 95.95 144.40 97.00 C144.20 98.05 143.56 101.10 143.40 102.00 C143.24 102.90 142.90 105.00 142.80 106.00 C142.70 107.00 142.44 111.40 142.40 112.00 C142.36 111.40 142.10 107.00 142.00 106.00 C141.90 105.00 141.56 102.90 141.40 102.00 C141.24 101.10 140.60 98.05 140.40 97.00 C140.20 95.95 139.54 92.80 139.40 91.50 C139.26 90.20 139.00 85.35 139.00 84.00 C139.00 82.65 139.28 79.20 139.40 78.00 C139.52 76.80 140.04 73.30 140.20 72.00 C140.36 70.70 140.86 66.40 141.00 65.00 C141.14 63.60 141.50 59.30 141.60 58.00 C141.70 56.70 141.92 53.27 142.00 52.00 C142.08 50.73 142.36 45.97 142.40 45.30 Z" fill="#f7ae55" stroke="#4a2c08" stroke-width="0.9" stroke-linejoin="round"/>
<circle cx="145.10" cy="59.90" r="1.2" fill="#a3a3a3" stroke="#8a8a8a" stroke-width="0.3"/>
<circle cx="149.20" cy="71.10" r="1.2" fill="#a3a3a3" stroke="#8a8a8a" stroke-width="0.3"/>
<circle cx="137.10" cy="77.80" r="1.2" fill="#a3a3a3" stroke="#8a8a8a" stroke-width="0.3"/>
<circle cx="147.40" cy="81.70" r="1.2" fill="#a3a3a3" stroke="#8a8a8a" stroke-width="0.3"/>
<line x1="142.40" y1="50.00" x2="142.40" y2="104.00" stroke="#4a2c08" stroke-width="0.85"/>
<rect x="140.60" y="78.20" width="3.60" height="8.00" fill="#ee9420" stroke="#4a2c08" stroke-width="0.85"/>
<line x1="140.60" y1="82.20" x2="144.20" y2="82.20" stroke="#4a2c08" stroke-width="0.6"/>
<line x1="56.3" y1="44" x2="81" y2="44" stroke="#505050" stroke-width="1.3"/>
<text x="68.65" y="42.90" font-size="5.5" text-anchor="middle" font-weight="normal" fill="#222" >**</text>
<line x1="81.2" y1="36.8" x2="143.5" y2="36.8" stroke="#505050" stroke-width="1.3"/>
<text x="112.35" y="36.40" font-size="5.5" text-anchor="middle" font-weight="normal" fill="#222" >*</text>
<line x1="118.5" y1="44" x2="143.5" y2="44" stroke="#505050" stroke-width="1.3"/>
<text x="131.00" y="42.90" font-size="5.5" text-anchor="middle" font-weight="normal" fill="#222" >***</text>
<text x="99.85" y="25.60" font-size="8.0" text-anchor="middle" font-weight="normal" fill="#2a2a2a" textLength="52" lengthAdjust="spacingAndGlyphs" style="stroke-width:0.08px">Pre-transfusion</text>
<path d="M31.30 155.30 V240.00 H167.5" fill="none" stroke="#111" stroke-width="1.6"/>
<line x1="28.70" y1="228.80" x2="31.30" y2="228.80" stroke="#111" stroke-width="0.9"/>
<text x="25.90" y="231.30" font-size="6.4" text-anchor="end" font-weight="normal" fill="#2a2a2a" >0</text>
<line x1="28.70" y1="205.60" x2="31.30" y2="205.60" stroke="#111" stroke-width="0.9"/>
<text x="25.90" y="208.10" font-size="6.4" text-anchor="end" font-weight="normal" fill="#2a2a2a" >5</text>
<line x1="28.70" y1="182.40" x2="31.30" y2="182.40" stroke="#111" stroke-width="0.9"/>
<text x="25.90" y="184.90" font-size="6.4" text-anchor="end" font-weight="normal" fill="#2a2a2a" >10</text>
<line x1="28.70" y1="159.20" x2="31.30" y2="159.20" stroke="#111" stroke-width="0.9"/>
<text x="25.90" y="161.70" font-size="6.4" text-anchor="end" font-weight="normal" fill="#2a2a2a" >15</text>
<line x1="68.50" y1="240.00" x2="68.50" y2="242.40" stroke="#111" stroke-width="0.9"/>
<text x="68.50" y="250.50" font-size="6.0" text-anchor="middle" font-weight="normal" fill="#2a2a2a" >Unlabeled</text>
<line x1="130.50" y1="240.00" x2="130.50" y2="242.40" stroke="#111" stroke-width="0.9"/>
<text x="130.50" y="250.50" font-size="6.0" text-anchor="middle" font-weight="normal" fill="#2a2a2a" >Labeled</text>
<text transform="translate(12.7 197.60) rotate(-90)" x="0" y="0" font-size="6.6" text-anchor="middle" fill="#1e1e1e" style="stroke-width:0.38px" textLength="20" lengthAdjust="spacingAndGlyphs">% CD63</text>
<path d="M56.90 209.80 C57.15 209.97 58.90 211.13 59.40 211.50 C59.90 211.87 61.41 212.96 61.90 213.50 C62.39 214.04 63.95 216.28 64.30 216.90 C64.65 217.52 65.09 219.19 65.40 219.70 C65.71 220.21 66.92 221.50 67.40 222.00 C67.88 222.50 70.20 224.27 70.20 224.70 C70.20 225.13 68.08 225.92 67.40 226.30 C66.72 226.68 64.15 228.04 63.40 228.50 C62.65 228.96 60.55 230.42 59.90 230.90 C59.25 231.38 57.20 233.06 56.90 233.30 C56.60 233.06 54.55 231.38 53.90 230.90 C53.25 230.42 51.15 228.96 50.40 228.50 C49.65 228.04 47.08 226.68 46.40 226.30 C45.72 225.92 43.60 225.13 43.60 224.70 C43.60 224.27 45.92 222.50 46.40 222.00 C46.88 221.50 48.09 220.21 48.40 219.70 C48.71 219.19 49.15 217.52 49.50 216.90 C49.85 216.28 51.41 214.04 51.90 213.50 C52.39 212.96 53.90 211.87 54.40 211.50 C54.90 211.13 56.65 209.97 56.90 209.80 Z" fill="#62c0ec" stroke="#0f3a4c" stroke-width="0.9" stroke-linejoin="round"/>
<circle cx="52.50" cy="218.40" r="1.2" fill="#a3a3a3" stroke="#8a8a8a" stroke-width="0.3"/>
<circle cx="61.90" cy="220.00" r="1.2" fill="#a3a3a3" stroke="#8a8a8a" stroke-width="0.3"/>
<circle cx="55.00" cy="228.00" r="1.2" fill="#a3a3a3" stroke="#8a8a8a" stroke-width="0.3"/>
<line x1="56.90" y1="212.00" x2="56.90" y2="231.00" stroke="#0f3a4c" stroke-width="0.85"/>
<rect x="54.90" y="218.00" width="4.00" height="8.00" fill="#3f95c8" stroke="#0f3a4c" stroke-width="0.85"/>
<line x1="54.90" y1="222.00" x2="58.90" y2="222.00" stroke="#0f3a4c" stroke-width="0.6"/>
<path d="M80.30 175.50 C80.52 176.12 82.47 180.71 82.50 181.70 C82.53 182.69 80.79 183.68 80.60 185.40 C80.41 187.12 80.23 197.24 80.55 198.90 C80.87 200.56 83.14 201.30 83.80 202.00 C84.45 202.70 86.51 205.10 87.10 205.90 C87.69 206.70 89.29 209.06 89.70 210.00 C90.11 210.94 91.64 214.22 91.20 215.30 C90.76 216.38 86.19 219.86 85.30 220.80 C84.41 221.74 82.80 223.76 82.30 224.70 C81.80 225.64 80.50 229.65 80.30 230.20 C80.10 229.65 78.80 225.64 78.30 224.70 C77.80 223.76 76.19 221.74 75.30 220.80 C74.41 219.86 69.84 216.38 69.40 215.30 C68.96 214.22 70.49 210.94 70.90 210.00 C71.31 209.06 72.91 206.70 73.50 205.90 C74.09 205.10 76.14 202.70 76.80 202.00 C77.45 201.30 79.73 200.56 80.05 198.90 C80.37 197.24 80.19 187.12 80.00 185.40 C79.81 183.68 78.07 182.69 78.10 181.70 C78.13 180.71 80.08 176.12 80.30 175.50 Z" fill="#f7ae55" stroke="#4a2c08" stroke-width="0.9" stroke-linejoin="round"/>
<circle cx="83.40" cy="183.30" r="1.2" fill="#a3a3a3" stroke="#8a8a8a" stroke-width="0.3"/>
<circle cx="74.70" cy="208.30" r="1.2" fill="#a3a3a3" stroke="#8a8a8a" stroke-width="0.3"/>
<circle cx="82.20" cy="203.60" r="1.2" fill="#a3a3a3" stroke="#8a8a8a" stroke-width="0.3"/>
<circle cx="84.00" cy="219.00" r="1.2" fill="#a3a3a3" stroke="#8a8a8a" stroke-width="0.3"/>
<line x1="80.30" y1="200.00" x2="80.30" y2="228.00" stroke="#4a2c08" stroke-width="0.85"/>
<rect x="78.10" y="209.00" width="4.40" height="10.00" fill="#ee9420" stroke="#4a2c08" stroke-width="0.85"/>
<line x1="78.10" y1="214.00" x2="82.50" y2="214.00" stroke="#4a2c08" stroke-width="0.6"/>
<path d="M119.40 210.50 C119.65 210.65 121.35 211.65 121.90 212.00 C122.45 212.35 124.17 213.46 124.90 214.00 C125.63 214.54 128.60 216.80 129.20 217.40 C129.80 218.00 130.44 219.45 130.90 220.00 C131.36 220.55 133.85 222.45 133.80 222.90 C133.75 223.35 131.20 224.03 130.40 224.50 C129.60 224.97 126.55 227.10 125.80 227.60 C125.05 228.10 123.54 229.10 122.90 229.50 C122.26 229.90 119.75 231.39 119.40 231.60 C119.05 231.39 116.54 229.90 115.90 229.50 C115.26 229.10 113.75 228.10 113.00 227.60 C112.25 227.10 109.20 224.97 108.40 224.50 C107.60 224.03 105.05 223.35 105.00 222.90 C104.95 222.45 107.44 220.55 107.90 220.00 C108.36 219.45 109.00 218.00 109.60 217.40 C110.20 216.80 113.17 214.54 113.90 214.00 C114.63 213.46 116.35 212.35 116.90 212.00 C117.45 211.65 119.15 210.65 119.40 210.50 Z" fill="#62c0ec" stroke="#0f3a4c" stroke-width="0.9" stroke-linejoin="round"/>
<circle cx="115.00" cy="220.00" r="1.2" fill="#a3a3a3" stroke="#8a8a8a" stroke-width="0.3"/>
<circle cx="123.50" cy="218.00" r="1.2" fill="#a3a3a3" stroke="#8a8a8a" stroke-width="0.3"/>
<circle cx="121.00" cy="227.00" r="1.2" fill="#a3a3a3" stroke="#8a8a8a" stroke-width="0.3"/>
<line x1="119.40" y1="213.00" x2="119.40" y2="230.00" stroke="#0f3a4c" stroke-width="0.85"/>
<rect x="117.40" y="218.00" width="4.00" height="8.00" fill="#3f95c8" stroke="#0f3a4c" stroke-width="0.85"/>
<line x1="117.40" y1="222.00" x2="121.40" y2="222.00" stroke="#0f3a4c" stroke-width="0.6"/>
<path d="M142.00 163.80 C142.04 164.42 142.28 169.03 142.40 170.00 C142.52 170.97 143.07 172.85 143.20 173.50 C143.33 174.15 143.70 175.90 143.70 176.50 C143.70 177.10 143.33 178.92 143.20 179.50 C143.06 180.08 142.44 181.15 142.35 182.30 C142.26 183.45 142.14 189.74 142.35 191.00 C142.56 192.26 143.96 193.80 144.40 194.90 C144.84 196.00 146.33 200.54 146.80 202.00 C147.27 203.46 149.00 208.35 149.10 209.50 C149.20 210.65 148.07 212.63 147.80 213.50 C147.53 214.37 146.79 217.05 146.40 218.20 C146.01 219.35 144.29 223.82 143.90 225.00 C143.51 226.18 142.67 229.30 142.50 230.00 C142.33 230.70 142.25 231.33 142.20 232.00 C142.15 232.67 142.02 236.23 142.00 236.70 C141.98 236.23 141.85 232.67 141.80 232.00 C141.75 231.33 141.67 230.70 141.50 230.00 C141.33 229.30 140.49 226.18 140.10 225.00 C139.71 223.82 137.99 219.35 137.60 218.20 C137.21 217.05 136.47 214.37 136.20 213.50 C135.93 212.63 134.80 210.65 134.90 209.50 C135.00 208.35 136.73 203.46 137.20 202.00 C137.67 200.54 139.16 196.00 139.60 194.90 C140.04 193.80 141.44 192.26 141.65 191.00 C141.86 189.74 141.74 183.45 141.65 182.30 C141.56 181.15 140.94 180.08 140.80 179.50 C140.67 178.92 140.30 177.10 140.30 176.50 C140.30 175.90 140.67 174.15 140.80 173.50 C140.93 172.85 141.48 170.97 141.60 170.00 C141.72 169.03 141.96 164.42 142.00 163.80 Z" fill="#f7ae55" stroke="#4a2c08" stroke-width="0.9" stroke-linejoin="round"/>
<circle cx="147.90" cy="222.50" r="1.2" fill="#a3a3a3" stroke="#8a8a8a" stroke-width="0.3"/>
<circle cx="137.50" cy="204.00" r="1.2" fill="#a3a3a3" stroke="#8a8a8a" stroke-width="0.3"/>
<circle cx="146.50" cy="206.00" r="1.2" fill="#a3a3a3" stroke="#8a8a8a" stroke-width="0.3"/>
<circle cx="139.00" cy="214.00" r="1.2" fill="#a3a3a3" stroke="#8a8a8a" stroke-width="0.3"/>
<line x1="142.00" y1="198.00" x2="142.00" y2="223.00" stroke="#4a2c08" stroke-width="0.85"/>
<rect x="140.20" y="202.30" width="3.60" height="12.10" fill="#ee9420" stroke="#4a2c08" stroke-width="0.85"/>
<line x1="140.20" y1="208.35" x2="143.80" y2="208.35" stroke="#4a2c08" stroke-width="0.6"/>
<line x1="55.6" y1="161.1" x2="81" y2="161.1" stroke="#505050" stroke-width="1.3"/>
<text x="68.30" y="160.00" font-size="5.5" text-anchor="middle" font-weight="normal" fill="#222" >**</text>
<line x1="118.1" y1="161.2" x2="143.3" y2="161.2" stroke="#505050" stroke-width="1.3"/>
<text x="130.70" y="160.00" font-size="5.5" text-anchor="middle" font-weight="normal" fill="#222" >***</text>
<path d="M31.30 280.00 V366.80 H167.5" fill="none" stroke="#111" stroke-width="1.6"/>
<line x1="28.70" y1="351.00" x2="31.30" y2="351.00" stroke="#111" stroke-width="0.9"/>
<text x="25.90" y="353.50" font-size="6.4" text-anchor="end" font-weight="normal" fill="#2a2a2a" >0</text>
<line x1="28.70" y1="333.90" x2="31.30" y2="333.90" stroke="#111" stroke-width="0.9"/>
<text x="25.90" y="336.40" font-size="6.4" text-anchor="end" font-weight="normal" fill="#2a2a2a" >10</text>
<line x1="28.70" y1="316.80" x2="31.30" y2="316.80" stroke="#111" stroke-width="0.9"/>
<text x="25.90" y="319.30" font-size="6.4" text-anchor="end" font-weight="normal" fill="#2a2a2a" >20</text>
<line x1="28.70" y1="299.70" x2="31.30" y2="299.70" stroke="#111" stroke-width="0.9"/>
<text x="25.90" y="302.20" font-size="6.4" text-anchor="end" font-weight="normal" fill="#2a2a2a" >30</text>
<line x1="28.70" y1="282.60" x2="31.30" y2="282.60" stroke="#111" stroke-width="0.9"/>
<text x="25.90" y="285.10" font-size="6.4" text-anchor="end" font-weight="normal" fill="#2a2a2a" >40</text>
<line x1="68.50" y1="366.80" x2="68.50" y2="369.20" stroke="#111" stroke-width="0.9"/>
<text x="68.50" y="378.50" font-size="6.0" text-anchor="middle" font-weight="normal" fill="#2a2a2a" >Unlabeled</text>
<line x1="130.50" y1="366.80" x2="130.50" y2="369.20" stroke="#111" stroke-width="0.9"/>
<text x="130.50" y="378.50" font-size="6.0" text-anchor="middle" font-weight="normal" fill="#2a2a2a" >Labeled</text>
<text transform="translate(12.7 323.30) rotate(-90)" x="0" y="0" font-size="6.6" text-anchor="middle" fill="#1e1e1e" style="stroke-width:0.38px" textLength="54" lengthAdjust="spacingAndGlyphs">% Phosphatidylserine</text>
<path d="M56.80 288.10 C56.82 288.39 56.93 290.31 57.05 291.00 C57.17 291.69 57.80 294.33 58.00 295.00 C58.20 295.67 58.79 297.10 59.00 297.70 C59.21 298.30 59.84 300.31 60.10 301.00 C60.36 301.69 61.25 303.90 61.60 304.60 C61.95 305.30 63.15 307.31 63.60 308.00 C64.05 308.69 65.58 310.70 66.10 311.50 C66.62 312.30 68.39 315.11 68.80 316.00 C69.21 316.89 70.20 319.65 70.20 320.40 C70.20 321.15 69.21 322.88 68.80 323.50 C68.39 324.12 66.70 326.00 66.10 326.60 C65.50 327.20 63.35 329.02 62.80 329.50 C62.25 329.98 61.08 331.05 60.60 331.40 C60.12 331.75 58.35 332.72 58.00 333.00 C57.65 333.28 57.17 333.67 57.05 334.20 C56.93 334.73 56.82 337.89 56.80 338.30 C56.77 337.89 56.67 334.73 56.55 334.20 C56.43 333.67 55.95 333.28 55.60 333.00 C55.24 332.72 53.48 331.75 53.00 331.40 C52.52 331.05 51.35 329.98 50.80 329.50 C50.25 329.02 48.10 327.20 47.50 326.60 C46.90 326.00 45.21 324.12 44.80 323.50 C44.39 322.88 43.40 321.15 43.40 320.40 C43.40 319.65 44.39 316.89 44.80 316.00 C45.21 315.11 46.98 312.30 47.50 311.50 C48.02 310.70 49.55 308.69 50.00 308.00 C50.45 307.31 51.65 305.30 52.00 304.60 C52.35 303.90 53.24 301.69 53.50 301.00 C53.76 300.31 54.39 298.30 54.60 297.70 C54.81 297.10 55.40 295.67 55.60 295.00 C55.79 294.33 56.43 291.69 56.55 291.00 C56.67 290.31 56.77 288.39 56.80 288.10 Z" fill="#62c0ec" stroke="#0f3a4c" stroke-width="0.9" stroke-linejoin="round"/>
<circle cx="53.00" cy="312.00" r="1.2" fill="#a3a3a3" stroke="#8a8a8a" stroke-width="0.3"/>
<circle cx="60.50" cy="318.00" r="1.2" fill="#a3a3a3" stroke="#8a8a8a" stroke-width="0.3"/>
<circle cx="53.50" cy="322.00" r="1.2" fill="#a3a3a3" stroke="#8a8a8a" stroke-width="0.3"/>
<circle cx="61.00" cy="326.00" r="1.2" fill="#a3a3a3" stroke="#8a8a8a" stroke-width="0.3"/>
<circle cx="57.00" cy="304.00" r="1.2" fill="#a3a3a3" stroke="#8a8a8a" stroke-width="0.3"/>
<line x1="56.80" y1="300.50" x2="56.80" y2="326.60" stroke="#0f3a4c" stroke-width="0.85"/>
<rect x="54.20" y="314.90" width="5.20" height="10.30" fill="#3f95c8" stroke="#0f3a4c" stroke-width="0.85"/>
<line x1="54.20" y1="320.05" x2="59.40" y2="320.05" stroke="#0f3a4c" stroke-width="0.6"/>
<path d="M80.50 294.30 C80.84 294.89 83.05 298.75 83.90 300.20 C84.75 301.65 88.10 306.75 89.00 308.80 C89.90 310.85 92.98 318.91 92.90 320.70 C92.82 322.49 89.14 325.42 88.20 326.70 C87.26 327.98 84.14 332.31 83.50 333.50 C82.86 334.69 81.84 337.75 81.80 338.60 C81.76 339.45 82.89 341.31 83.10 342.00 C83.31 342.69 83.90 344.85 83.90 345.50 C83.90 346.15 83.29 347.99 83.10 348.50 C82.91 349.01 82.23 349.88 82.00 350.60 C81.77 351.32 80.90 354.85 80.75 355.70 C80.60 356.55 80.53 358.76 80.50 359.10 C80.47 358.76 80.40 356.55 80.25 355.70 C80.10 354.85 79.23 351.32 79.00 350.60 C78.77 349.88 78.09 349.01 77.90 348.50 C77.71 347.99 77.10 346.15 77.10 345.50 C77.10 344.85 77.69 342.69 77.90 342.00 C78.11 341.31 79.24 339.45 79.20 338.60 C79.16 337.75 78.14 334.69 77.50 333.50 C76.86 332.31 73.74 327.98 72.80 326.70 C71.86 325.42 68.18 322.49 68.10 320.70 C68.02 318.91 71.10 310.85 72.00 308.80 C72.90 306.75 76.25 301.65 77.10 300.20 C77.95 298.75 80.16 294.89 80.50 294.30 Z" fill="#f7ae55" stroke="#4a2c08" stroke-width="0.9" stroke-linejoin="round"/>
<circle cx="86.20" cy="346.80" r="1.2" fill="#a3a3a3" stroke="#8a8a8a" stroke-width="0.3"/>
<circle cx="76.00" cy="312.00" r="1.2" fill="#a3a3a3" stroke="#8a8a8a" stroke-width="0.3"/>
<circle cx="84.50" cy="311.00" r="1.2" fill="#a3a3a3" stroke="#8a8a8a" stroke-width="0.3"/>
<circle cx="76.00" cy="322.00" r="1.2" fill="#a3a3a3" stroke="#8a8a8a" stroke-width="0.3"/>
<circle cx="85.00" cy="324.00" r="1.2" fill="#a3a3a3" stroke="#8a8a8a" stroke-width="0.3"/>
<circle cx="83.00" cy="330.00" r="1.2" fill="#a3a3a3" stroke="#8a8a8a" stroke-width="0.3"/>
<line x1="80.50" y1="307.00" x2="80.50" y2="332.70" stroke="#4a2c08" stroke-width="0.85"/>
<rect x="77.90" y="315.60" width="5.20" height="11.10" fill="#ee9420" stroke="#4a2c08" stroke-width="0.85"/>
<line x1="77.90" y1="321.15" x2="83.10" y2="321.15" stroke="#4a2c08" stroke-width="0.6"/>
<path d="M119.40 285.70 C119.44 286.03 119.62 288.27 119.80 289.00 C119.98 289.73 120.76 291.79 121.20 293.00 C121.64 294.21 123.46 299.55 124.20 301.10 C124.94 302.65 127.88 307.21 128.60 308.50 C129.32 309.79 130.94 312.90 131.40 314.00 C131.86 315.10 133.25 318.60 133.20 319.50 C133.15 320.40 131.51 322.34 130.90 323.00 C130.29 323.66 127.75 325.50 127.10 326.10 C126.45 326.70 124.91 328.48 124.40 329.00 C123.89 329.52 122.42 330.87 122.00 331.30 C121.58 331.73 120.44 332.98 120.20 333.30 C119.97 333.62 119.73 333.97 119.65 334.50 C119.57 335.03 119.43 338.19 119.40 338.60 C119.38 338.19 119.23 335.03 119.15 334.50 C119.07 333.97 118.84 333.62 118.60 333.30 C118.37 332.98 117.22 331.73 116.80 331.30 C116.38 330.87 114.91 329.52 114.40 329.00 C113.89 328.48 112.35 326.70 111.70 326.10 C111.05 325.50 108.51 323.66 107.90 323.00 C107.29 322.34 105.65 320.40 105.60 319.50 C105.55 318.60 106.94 315.10 107.40 314.00 C107.86 312.90 109.48 309.79 110.20 308.50 C110.92 307.21 113.86 302.65 114.60 301.10 C115.34 299.55 117.16 294.21 117.60 293.00 C118.04 291.79 118.82 289.73 119.00 289.00 C119.18 288.27 119.36 286.03 119.40 285.70 Z" fill="#62c0ec" stroke="#0f3a4c" stroke-width="0.9" stroke-linejoin="round"/>
<circle cx="125.50" cy="299.60" r="1.2" fill="#a3a3a3" stroke="#8a8a8a" stroke-width="0.3"/>
<circle cx="114.50" cy="315.00" r="1.2" fill="#a3a3a3" stroke="#8a8a8a" stroke-width="0.3"/>
<circle cx="122.50" cy="311.00" r="1.2" fill="#a3a3a3" stroke="#8a8a8a" stroke-width="0.3"/>
<circle cx="115.00" cy="320.00" r="1.2" fill="#a3a3a3" stroke="#8a8a8a" stroke-width="0.3"/>
<circle cx="123.00" cy="324.00" r="1.2" fill="#a3a3a3" stroke="#8a8a8a" stroke-width="0.3"/>
<line x1="119.40" y1="299.60" x2="119.40" y2="326.10" stroke="#0f3a4c" stroke-width="0.85"/>
<rect x="116.90" y="312.10" width="5.00" height="9.60" fill="#3f95c8" stroke="#0f3a4c" stroke-width="0.85"/>
<line x1="116.90" y1="316.90" x2="121.90" y2="316.90" stroke="#0f3a4c" stroke-width="0.6"/>
<path d="M142.30 287.10 C142.38 287.49 142.79 290.08 143.10 291.00 C143.41 291.92 144.77 294.75 145.40 296.30 C146.03 297.85 148.82 304.93 149.40 306.50 C149.98 308.07 150.94 310.88 151.20 312.00 C151.46 313.12 152.04 316.60 152.00 317.70 C151.96 318.80 151.11 321.88 150.80 323.00 C150.49 324.12 149.34 327.29 148.90 328.90 C148.46 330.51 146.86 337.07 146.40 339.10 C145.94 341.13 144.65 347.61 144.30 349.20 C143.95 350.79 143.08 354.18 142.90 355.00 C142.72 355.82 142.61 356.55 142.55 357.40 C142.49 358.25 142.33 362.89 142.30 363.50 C142.28 362.89 142.11 358.25 142.05 357.40 C141.99 356.55 141.88 355.82 141.70 355.00 C141.53 354.18 140.65 350.79 140.30 349.20 C139.95 347.61 138.66 341.13 138.20 339.10 C137.74 337.07 136.14 330.51 135.70 328.90 C135.26 327.29 134.11 324.12 133.80 323.00 C133.49 321.88 132.64 318.80 132.60 317.70 C132.56 316.60 133.14 313.12 133.40 312.00 C133.66 310.88 134.62 308.07 135.20 306.50 C135.78 304.93 138.57 297.85 139.20 296.30 C139.83 294.75 141.19 291.92 141.50 291.00 C141.81 290.08 142.22 287.49 142.30 287.10 Z" fill="#f7ae55" stroke="#4a2c08" stroke-width="0.9" stroke-linejoin="round"/>
<circle cx="138.00" cy="304.00" r="1.2" fill="#a3a3a3" stroke="#8a8a8a" stroke-width="0.3"/>
<circle cx="146.00" cy="310.00" r="1.2" fill="#a3a3a3" stroke="#8a8a8a" stroke-width="0.3"/>
<circle cx="138.50" cy="318.00" r="1.2" fill="#a3a3a3" stroke="#8a8a8a" stroke-width="0.3"/>
<circle cx="147.00" cy="322.00" r="1.2" fill="#a3a3a3" stroke="#8a8a8a" stroke-width="0.3"/>
<circle cx="142.00" cy="338.00" r="1.2" fill="#a3a3a3" stroke="#8a8a8a" stroke-width="0.3"/>
<line x1="142.30" y1="305.40" x2="142.30" y2="343.10" stroke="#4a2c08" stroke-width="0.85"/>
<rect x="140.20" y="312.60" width="4.20" height="14.20" fill="#ee9420" stroke="#4a2c08" stroke-width="0.85"/>
<line x1="140.20" y1="319.70" x2="144.40" y2="319.70" stroke="#4a2c08" stroke-width="0.6"/>
<text x="99.8" y="390.6" font-size="8.2" text-anchor="middle" fill="#222" style="stroke-width:0.45px" textLength="20.4" lengthAdjust="spacingAndGlyphs">Labeling</text>
<rect x="64.2" y="394.0" width="9" height="9.4" fill="#2f78a8" stroke="#0f3a4c" stroke-width="0.9"/>
<rect x="66.3" y="396.40000000000003" width="4.8" height="4.6" fill="none" stroke="#62c0ec" stroke-width="0.8"/>
<line x1="68.7" y1="394.6" x2="68.7" y2="402.8" stroke="#62c0ec" stroke-width="0.7"/>
<line x1="64.6" y1="398.7" x2="72.8" y2="398.7" stroke="#62c0ec" stroke-width="0.7"/>
<text x="76.1" y="401.40000000000003" font-size="6.6" fill="#2a2a2a" textLength="58.8" lengthAdjust="spacingAndGlyphs">Short-term stored PCs</text>
<rect x="64.2" y="406.2" width="9" height="9.4" fill="#c77a1c" stroke="#4a2c08" stroke-width="0.9"/>
<rect x="66.3" y="408.6" width="4.8" height="4.6" fill="none" stroke="#f7ae55" stroke-width="0.8"/>
<line x1="68.7" y1="406.8" x2="68.7" y2="415" stroke="#f7ae55" stroke-width="0.7"/>
<line x1="64.6" y1="410.9" x2="72.8" y2="410.9" stroke="#f7ae55" stroke-width="0.7"/>
<text x="76.1" y="413.6" font-size="6.6" fill="#2a2a2a" textLength="57.6" lengthAdjust="spacingAndGlyphs">Long-term stored PCs</text>
<line x1="286.8" y1="398" x2="294.8" y2="398" stroke="#6cc0e4" stroke-width="1.1"/>
<circle cx="290.8" cy="398" r="1.9" fill="#7ccdf2" stroke="#173f55" stroke-width="1.2"/>
<text x="297.7" y="400.1" font-size="6.1" fill="#2a2a2a" textLength="58.5" lengthAdjust="spacingAndGlyphs">Short-term stored PCs</text>
<line x1="362.1" y1="398" x2="370.1" y2="398" stroke="#f2ad52" stroke-width="1.1"/>
<circle cx="366.1" cy="398" r="1.9" fill="#f9c274" stroke="#4a2d0c" stroke-width="1.2"/>
<text x="373.2" y="400.1" font-size="6.1" fill="#2a2a2a" textLength="58" lengthAdjust="spacingAndGlyphs">Long-term stored PCs</text>
<text x="272.35" y="389.6" font-size="7.4" text-anchor="middle" fill="#222" style="stroke-width:0.4px" textLength="54" lengthAdjust="spacingAndGlyphs">Time (minutes/hours)</text>
<text x="447.6" y="389.6" font-size="7.4" text-anchor="middle" fill="#222" style="stroke-width:0.4px" textLength="54" lengthAdjust="spacingAndGlyphs">Time (minutes/hours)</text>
</svg><div style="position:absolute;left:0;top:0;width:518px;height:420px;border:1px solid #545454"></div></body></html>
